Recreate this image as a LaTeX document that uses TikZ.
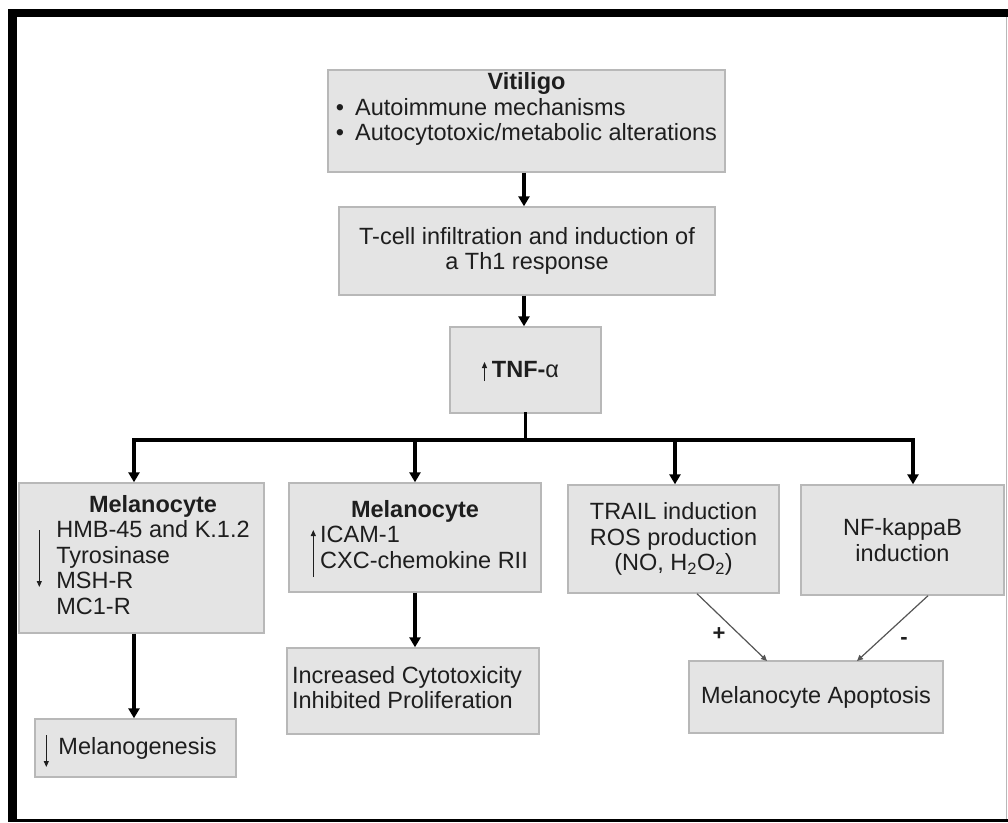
\documentclass[tikz,border=0pt]{standalone}
\usepackage{fontspec}
\setmainfont{Liberation Sans}
\usetikzlibrary{arrows.meta,calc}

\definecolor{boxfill}{HTML}{E4E4E4}
\definecolor{boxline}{HTML}{B8B8B8}
\definecolor{ink}{HTML}{1E1E1E}
\definecolor{thinink}{HTML}{555555}

\begin{document}
\begin{tikzpicture}[x=1pt,y=-1pt,
    box/.style={draw=boxline, fill=boxfill, line width=1.4pt, inner sep=0pt,
        text=ink, font=\fontsize{23.5}{25.5}\selectfont, align=center},
    boxtext/.style={inner sep=0pt, text=ink, font=\fontsize{23.5}{25.5}\selectfont},
    bigarrow/.style={line width=3.2pt, -{Triangle[length=10pt,width=11pt]}},
    busline/.style={line width=3.2pt, line cap=rect},
    smallarrow/.style={draw=thinink, line width=1.2pt, -{Triangle[length=6pt,width=5.5pt]}},
    listarrow/.style={draw=ink, line width=1pt, -{Triangle[length=6pt,width=5pt]}},
    sign/.style={inner sep=0pt, text=ink, font=\fontsize{22}{22}\selectfont\bfseries}]

    \useasboundingbox (0,0) rectangle (1008,822);

    % Frame
    \fill[black] (8,9) rectangle (1008,17);
    \fill[black] (8,9) rectangle (17,822);
    \fill[black] (8,819) rectangle (1008,822);
    \draw[boxline, line width=1.5pt] (1006.5,17) -- (1006.5,819);

    % Top chain
    \node[box, minimum width=397pt, minimum height=102pt] (vit) at (526.5,121) {};
    \node[boxtext] (vittext) at ($(vit.center)+(0,-11)$) {%
        \begin{tabular}{@{}l@{}}
        \multicolumn{1}{@{}c@{}}{\bfseries Vitiligo}\\
        \textbullet\hspace{11pt}Autoimmune mechanisms\\
        \textbullet\hspace{11pt}Autocytotoxic/metabolic alterations
        \end{tabular}};
    \node[box, minimum width=376pt, minimum height=88pt] (tcell) at (527,251)
        {T-cell infiltration and induction of\\a Th1 response};
    \node[box, minimum width=151pt, minimum height=86pt] (tnf) at (525.5,370)
        {\textbf{TNF-}α};

    \draw[bigarrow] (vit.south -| 524,0) -- (tcell.north -| 524,0);
    \draw[bigarrow] (tcell.south -| 524,0) -- (tnf.north -| 524,0);
    \draw[listarrow] ($(tnf.center)+(-41,11)$) -- ($(tnf.center)+(-41,-8)$);

    % Second row
    \node[box, minimum width=245pt, minimum height=150pt] (melA) at (141.5,558) {%
        \begin{tabular}{@{\hspace{23pt}}l@{}}
        \multicolumn{1}{@{\hspace{23pt}}c@{}}{\bfseries Melanocyte}\\
        HMB-45 and K.1.2\\
        Tyrosinase\\
        MSH-R\\
        MC1-R
        \end{tabular}};
    \node[box, minimum width=252pt, minimum height=109pt] (melB) at (415,537.5) {%
        \begin{tabular}{@{\hspace{18pt}}l@{}}
        \multicolumn{1}{@{}c@{}}{\bfseries Melanocyte}\\
        ICAM-1\\
        CXC-chemokine RII
        \end{tabular}};
    \node[box, minimum width=211pt, minimum height=108pt] (trail) at (673.5,539)
        {TRAIL induction\\ROS production\\(NO, H\textsubscript{2}O\textsubscript{2})};
    \node[box, minimum width=203pt, minimum height=110pt] (nfk) at (902.5,540)
        {NF-kappaB\\induction};

    \draw[listarrow] ($(melA.west)+(21,-28)$) -- ($(melA.west)+(21,29)$);
    \draw[listarrow] ($(melB.west)+(25,39.5)$) -- ($(melB.west)+(25,-7.5)$);

    % Branches from TNF
    \coordinate (busA) at (134,440);
    \coordinate (busB) at (415,440);
    \coordinate (busC) at (675,440);
    \coordinate (busD) at (913,440);
    \draw[busline] (tnf.south) -- (tnf.south |- busA);
    \draw[busline] (busA) -- (busD);
    \draw[bigarrow] (busA) -- (busA |- melA.north);
    \draw[bigarrow] (busB) -- (busB |- melB.north);
    \draw[bigarrow] (busC) -- (busC |- trail.north);
    \draw[bigarrow] (busD) -- (busD |- nfk.north);

    % Bottom row
    \node[box, minimum width=201pt, minimum height=58pt] (melgen) at (135.5,748)
        {\hspace{4pt}Melanogenesis};
    \node[box, minimum width=252pt, minimum height=86pt] (incr) at (413,691) {%
        \begin{tabular}{@{}l@{\hspace{12pt}}}
        Increased Cytotoxicity\\
        Inhibited Proliferation
        \end{tabular}};
    \node[box, minimum width=254pt, minimum height=72pt] (apop) at (816,697)
        {Melanocyte Apoptosis};

    \draw[listarrow] ($(melgen.west)+(12,-13)$) -- ($(melgen.west)+(12,19)$);
    \draw[bigarrow] (melA.south -| busA) -- (melgen.north -| busA);
    \draw[bigarrow] (melB.south) -- (melB.south |- incr.north);

    % Effects on apoptosis
    \coordinate (plusend) at (767,661);
    \coordinate (minusend) at (857,661);
    \draw[smallarrow] (trail.south -| 697,0) -- (plusend);
    \draw[smallarrow] (nfk.south -| 928,0) -- (minusend);
    \node[sign] (plus) at (719,634) {+};
    \node[sign] (minus) at (904,641) {-};
\end{tikzpicture}
\end{document}
